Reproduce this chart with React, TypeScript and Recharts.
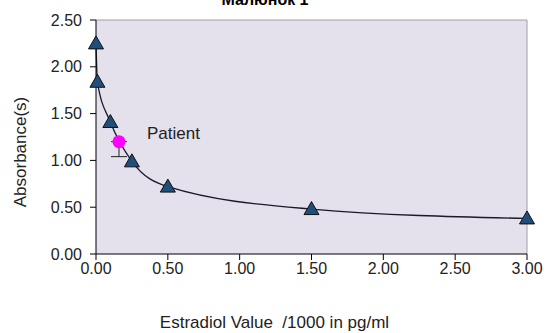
import {
  CartesianGrid,
  ComposedChart,
  ErrorBar,
  Line,
  ReferenceLine,
  Scatter,
  XAxis,
  YAxis,
} from "recharts";

// standard curve (concentration /1000 pg/ml vs absorbance)
const standardConc = [0, 0.01, 0.1, 0.25, 0.5, 1.5, 3.0];
const standardAbs = [2.25, 1.84, 1.41, 0.99, 0.72, 0.48, 0.38];

const patientConc = [0.16];
const patientAbs = [1.2];
const patientDrop = [0.16];
const patientLabels = ["Patient"];

const xTicks = [0, 0.5, 1, 1.5, 2, 2.5, 3];
const yTicks = [0, 0.5, 1, 1.5, 2, 2.5];

const standards = standardConc.map((x, i) => ({ x, y: standardAbs[i] }));
const patients = patientConc.map((x, i) => ({
  x,
  y: patientAbs[i],
  err: [patientDrop[i], 0],
  label: patientLabels[i],
}));

const font = "'Liberation Sans', Arial, sans-serif";
const textColor = "#222";

function Triangle(props: any) {
  const { cx, cy } = props;
  if (cx == null || cy == null) return null;
  return (
    <path
      key={`tri-${cx}-${cy}`}
      d={`M${cx},${cy - 7.5} L${cx + 7.5},${cy + 5.5} L${cx - 7.5},${cy + 5.5} Z`}
      fill="#1F4E7A"
      stroke="#111"
      strokeWidth={1}
    />
  );
}

function PatientDot(props: any) {
  const { cx, cy, payload } = props;
  return (
    <g>
      <circle cx={cx} cy={cy} r={6.5} fill="#FF00FF" />
      <text x={cx + 28} y={cy - 3} fontSize={17} fill={textColor} fontFamily={font}>
        {payload.label}
      </text>
    </g>
  );
}

const fmt = (v: number) => v.toFixed(2);

export default function App() {
  return (
    <div style={{ position: "absolute", left: 0, top: 0, width: 548, height: 333, background: "#fff" }}>
      <div
        style={{
          position: "absolute",
          top: -9,
          left: 0,
          width: 530,
          textAlign: "center",
          fontFamily: font,
          fontWeight: "bold",
          fontSize: 16,
          color: "#000",
        }}
      >
        Малюнок 1
      </div>
      <ComposedChart
        width={548}
        height={333}
        margin={{ top: 20, right: 21, bottom: 19, left: 10 }}
        style={{ fontFamily: font }}
      >
        <CartesianGrid fill="#E4E0EC" horizontal={false} vertical={false} />
        <XAxis
          type="number"
          dataKey="x"
          domain={[0, 3]}
          ticks={xTicks}
          tickFormatter={fmt}
          height={60}
          tickSize={6}
          tickMargin={3}
          interval={0}
          stroke="#000"
          tick={{ fill: textColor, fontSize: 16 }}
          label={{
            value: "Estradiol Value \u00a0/1000 in pg/ml",
            position: "insideBottom",
            offset: -14,
            dx: -37,
            fill: textColor,
            fontSize: 17,
          }}
        />
        <YAxis
          type="number"
          dataKey="y"
          domain={[0, 2.5]}
          ticks={yTicks}
          tickFormatter={fmt}
          width={86}
          tickSize={6}
          tickMargin={8}
          interval={0}
          stroke="#000"
          tick={{ fill: textColor, fontSize: 16 }}
          label={{
            value: "Absorbance(s)",
            angle: -90,
            position: "insideLeft",
            offset: 10,
            dy: 15,
            fill: textColor,
            fontSize: 17,
            style: { textAnchor: "middle" },
          }}
        />
        <ReferenceLine y={2.5} stroke="#A0A0A0" />
        <ReferenceLine x={3} stroke="#A0A0A0" />
        <Line
          data={standards}
          dataKey="y"
          type="monotone"
          stroke="#1a1a2a"
          strokeWidth={1.3}
          dot={<Triangle />}
          activeDot={false}
          isAnimationActive={false}
        />
        <Scatter data={patients} dataKey="y" shape={<PatientDot />} isAnimationActive={false}>
          <ErrorBar dataKey="err" direction="y" width={8} stroke="#222" strokeWidth={1} />
        </Scatter>
      </ComposedChart>
    </div>
  );
}
